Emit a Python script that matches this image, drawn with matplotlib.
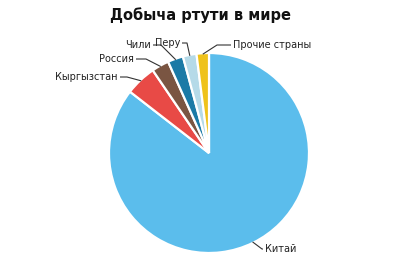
import matplotlib
import numpy as np

matplotlib.use("Agg")
import matplotlib.pyplot as plt

countries = ["Китай", "Кыргызстан", "Россия", "Чили", "Перу", "Прочие страны"]
shares = [85.5, 5.0, 2.8, 2.5, 2.2, 2.0]
colors = ["#5bbdec", "#e84a46", "#7a5542", "#1b7aa6", "#b5dae8", "#efc21a"]

# label text anchor (data units, 1 unit = 100 px), elbow x, alignment
label_pos = {
    "Китай": (0.56, -0.96, 0.53, "left"),
    "Кыргызстан": (-0.91, 0.76, -0.82, "right"),
    "Россия": (-0.75, 0.94, -0.63, "right"),
    "Чили": (-0.58, 1.08, -0.48, "right"),
    "Перу": (-0.29, 1.10, -0.22, "right"),
    "Прочие страны": (0.24, 1.08, 0.08, "left"),
}

fig = plt.figure(figsize=(4.0, 2.77), dpi=100)
ax = fig.add_axes([0, 0, 1, 1])

wedges, _ = ax.pie(
    shares,
    colors=colors,
    startangle=90,
    counterclock=False,
    radius=1.0,
    wedgeprops={"edgecolor": "white", "linewidth": 1.6},
)
ax.set_xlim(-2.09, 1.91)
ax.set_ylim(-1.24, 1.53)
ax.set_aspect("equal")
ax.axis("off")

for w, name in zip(wedges, countries):
    mid = np.deg2rad((w.theta1 + w.theta2) / 2)
    px, py = np.cos(mid) * 0.99, np.sin(mid) * 0.99
    tx, ty, ex, ha = label_pos[name]
    end = tx + (0.02 if ha == "right" else -0.02)
    ax.plot([px, ex, end], [py, ty, ty], color="#333333", lw=0.8,
            solid_capstyle="butt")
    ax.text(tx, ty, name, ha=ha, va="center", fontsize=7, color="#222222")

fig.text(0.5, 0.945, "Добыча ртути в мире", ha="center", va="center",
         fontsize=10.5, fontweight="bold", color="#111111")

fig.savefig("out.png", dpi=100, facecolor="white")
